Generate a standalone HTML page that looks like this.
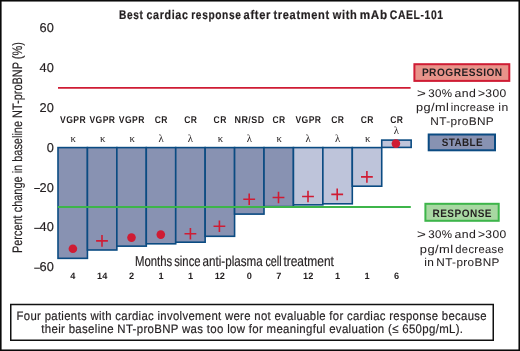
<!DOCTYPE html>
<html><head><meta charset="utf-8"><style>
html,body{margin:0;padding:0;background:#fff;}
body{width:520px;height:351px;overflow:hidden;font-family:"Liberation Sans",sans-serif;}
svg{display:block;text-rendering:geometricPrecision;will-change:transform;}
.r{stroke:#231f20;stroke-width:0.18px;}
.d{stroke:#231f20;stroke-width:0.05px;}
</style></head><body>
<svg width="520" height="351" viewBox="0 0 520 351">
<rect x="58.00" y="147.60" width="29.43" height="110.75" fill="#8892b2" stroke="#0b4b82" stroke-width="1.6"/>
<rect x="87.43" y="147.60" width="29.43" height="102.40" fill="#8892b2" stroke="#0b4b82" stroke-width="1.6"/>
<rect x="116.86" y="147.60" width="29.43" height="98.55" fill="#8892b2" stroke="#0b4b82" stroke-width="1.6"/>
<rect x="146.29" y="147.60" width="29.43" height="96.20" fill="#8892b2" stroke="#0b4b82" stroke-width="1.6"/>
<rect x="175.72" y="147.60" width="29.43" height="94.60" fill="#8892b2" stroke="#0b4b82" stroke-width="1.6"/>
<rect x="205.15" y="147.60" width="29.43" height="88.70" fill="#8892b2" stroke="#0b4b82" stroke-width="1.6"/>
<rect x="234.58" y="147.60" width="29.43" height="66.50" fill="#8892b2" stroke="#0b4b82" stroke-width="1.6"/>
<rect x="264.01" y="147.60" width="29.43" height="59.00" fill="#8892b2" stroke="#0b4b82" stroke-width="1.6"/>
<rect x="293.44" y="147.60" width="29.43" height="57.25" fill="#bec4da" stroke="#0b4b82" stroke-width="1.6"/>
<rect x="322.87" y="147.60" width="29.43" height="56.20" fill="#bec4da" stroke="#0b4b82" stroke-width="1.6"/>
<rect x="352.30" y="147.60" width="29.43" height="38.60" fill="#bec4da" stroke="#0b4b82" stroke-width="1.6"/>
<rect x="381.73" y="140.1" width="29.43" height="7.30" fill="#bec4da" stroke="#0b4b82" stroke-width="1.6"/>
<line x1="58" y1="87.9" x2="410.6" y2="87.9" stroke="#cf1c34" stroke-width="1.9"/>
<line x1="57.8" y1="207.0" x2="410.8" y2="207.0" stroke="#3db54a" stroke-width="1.9"/>
<circle cx="72.9" cy="248.8" r="4.3" fill="#cf1c34"/>
<path d="M96.10 240.90H107.90M102.00 235.10V246.70" stroke="#cf1c34" stroke-width="1.6" fill="none"/>
<circle cx="131.5" cy="237.6" r="4.3" fill="#cf1c34"/>
<circle cx="160.8" cy="234.6" r="4.3" fill="#cf1c34"/>
<path d="M184.50 233.70H196.30M190.40 227.90V239.50" stroke="#cf1c34" stroke-width="1.6" fill="none"/>
<path d="M213.50 226.30H225.30M219.40 220.50V232.10" stroke="#cf1c34" stroke-width="1.6" fill="none"/>
<path d="M243.30 199.20H255.10M249.20 193.40V205.00" stroke="#cf1c34" stroke-width="1.6" fill="none"/>
<path d="M272.60 197.50H284.40M278.50 191.70V203.30" stroke="#cf1c34" stroke-width="1.6" fill="none"/>
<path d="M302.10 196.50H313.90M308.00 190.70V202.30" stroke="#cf1c34" stroke-width="1.6" fill="none"/>
<path d="M331.30 194.40H343.10M337.20 188.60V200.20" stroke="#cf1c34" stroke-width="1.6" fill="none"/>
<path d="M361.00 176.90H372.80M366.90 171.10V182.70" stroke="#cf1c34" stroke-width="1.6" fill="none"/>
<circle cx="395.9" cy="143.6" r="4.3" fill="#cf1c34"/>
<text x="73.02" y="122.6" text-anchor="middle" font-family="Liberation Sans" font-weight="bold" font-size="9.8" letter-spacing="0.5" textLength="26.05" lengthAdjust="spacingAndGlyphs" fill="#231f20">VGPR</text>
<text x="102.44" y="122.6" text-anchor="middle" font-family="Liberation Sans" font-weight="bold" font-size="9.8" letter-spacing="0.5" textLength="26.05" lengthAdjust="spacingAndGlyphs" fill="#231f20">VGPR</text>
<text x="131.88" y="122.6" text-anchor="middle" font-family="Liberation Sans" font-weight="bold" font-size="9.8" letter-spacing="0.5" textLength="26.05" lengthAdjust="spacingAndGlyphs" fill="#231f20">VGPR</text>
<text x="161.31" y="122.6" text-anchor="middle" font-family="Liberation Sans" font-weight="bold" font-size="9.8" letter-spacing="0.5" textLength="13.149999999999999" lengthAdjust="spacingAndGlyphs" fill="#231f20">CR</text>
<text x="190.74" y="122.6" text-anchor="middle" font-family="Liberation Sans" font-weight="bold" font-size="9.8" letter-spacing="0.5" textLength="13.149999999999999" lengthAdjust="spacingAndGlyphs" fill="#231f20">CR</text>
<text x="220.17" y="122.6" text-anchor="middle" font-family="Liberation Sans" font-weight="bold" font-size="9.8" letter-spacing="0.5" textLength="13.149999999999999" lengthAdjust="spacingAndGlyphs" fill="#231f20">CR</text>
<text x="249.59" y="122.6" text-anchor="middle" font-family="Liberation Sans" font-weight="bold" font-size="9.8" letter-spacing="0.5" textLength="30.05" lengthAdjust="spacingAndGlyphs" fill="#231f20">NR/SD</text>
<text x="279.03" y="122.6" text-anchor="middle" font-family="Liberation Sans" font-weight="bold" font-size="9.8" letter-spacing="0.5" textLength="13.149999999999999" lengthAdjust="spacingAndGlyphs" fill="#231f20">CR</text>
<text x="308.45" y="122.6" text-anchor="middle" font-family="Liberation Sans" font-weight="bold" font-size="9.8" letter-spacing="0.5" textLength="26.05" lengthAdjust="spacingAndGlyphs" fill="#231f20">VGPR</text>
<text x="337.88" y="122.6" text-anchor="middle" font-family="Liberation Sans" font-weight="bold" font-size="9.8" letter-spacing="0.5" textLength="13.149999999999999" lengthAdjust="spacingAndGlyphs" fill="#231f20">CR</text>
<text x="367.31" y="122.6" text-anchor="middle" font-family="Liberation Sans" font-weight="bold" font-size="9.8" letter-spacing="0.5" textLength="13.149999999999999" lengthAdjust="spacingAndGlyphs" fill="#231f20">CR</text>
<text x="396.75" y="122.6" text-anchor="middle" font-family="Liberation Sans" font-weight="bold" font-size="9.8" letter-spacing="0.5" textLength="13.149999999999999" lengthAdjust="spacingAndGlyphs" fill="#231f20">CR</text>
<text x="73.31" y="141.6" text-anchor="middle" font-family="Liberation Serif" font-size="10.8" fill="#231f20">κ</text>
<text x="102.74" y="141.6" text-anchor="middle" font-family="Liberation Serif" font-size="10.8" fill="#231f20">κ</text>
<text x="132.17" y="141.6" text-anchor="middle" font-family="Liberation Serif" font-size="10.8" fill="#231f20">κ</text>
<text x="161.00" y="141.6" text-anchor="middle" font-family="Liberation Serif" font-size="10.8" fill="#231f20">λ</text>
<text x="190.44" y="141.6" text-anchor="middle" font-family="Liberation Serif" font-size="10.8" fill="#231f20">λ</text>
<text x="220.47" y="141.6" text-anchor="middle" font-family="Liberation Serif" font-size="10.8" fill="#231f20">κ</text>
<text x="249.29" y="141.6" text-anchor="middle" font-family="Liberation Serif" font-size="10.8" fill="#231f20">λ</text>
<text x="279.33" y="141.6" text-anchor="middle" font-family="Liberation Serif" font-size="10.8" fill="#231f20">κ</text>
<text x="308.15" y="141.6" text-anchor="middle" font-family="Liberation Serif" font-size="10.8" fill="#231f20">λ</text>
<text x="337.58" y="141.6" text-anchor="middle" font-family="Liberation Serif" font-size="10.8" fill="#231f20">λ</text>
<text x="367.62" y="141.6" text-anchor="middle" font-family="Liberation Serif" font-size="10.8" fill="#231f20">κ</text>
<text x="396.44" y="134.2" text-anchor="middle" font-family="Liberation Serif" font-size="10.8" fill="#231f20">λ</text>
<text x="72.72" y="279.4" text-anchor="middle" font-family="Liberation Sans" font-weight="bold" font-size="9.2" fill="#231f20">4</text>
<text x="102.14" y="279.4" text-anchor="middle" font-family="Liberation Sans" font-weight="bold" font-size="9.2" fill="#231f20">14</text>
<text x="131.57" y="279.4" text-anchor="middle" font-family="Liberation Sans" font-weight="bold" font-size="9.2" fill="#231f20">2</text>
<text x="161.00" y="279.4" text-anchor="middle" font-family="Liberation Sans" font-weight="bold" font-size="9.2" fill="#231f20">1</text>
<text x="190.44" y="279.4" text-anchor="middle" font-family="Liberation Sans" font-weight="bold" font-size="9.2" fill="#231f20">1</text>
<text x="219.87" y="279.4" text-anchor="middle" font-family="Liberation Sans" font-weight="bold" font-size="9.2" fill="#231f20">12</text>
<text x="249.29" y="279.4" text-anchor="middle" font-family="Liberation Sans" font-weight="bold" font-size="9.2" fill="#231f20">0</text>
<text x="278.73" y="279.4" text-anchor="middle" font-family="Liberation Sans" font-weight="bold" font-size="9.2" fill="#231f20">7</text>
<text x="308.15" y="279.4" text-anchor="middle" font-family="Liberation Sans" font-weight="bold" font-size="9.2" fill="#231f20">12</text>
<text x="337.58" y="279.4" text-anchor="middle" font-family="Liberation Sans" font-weight="bold" font-size="9.2" fill="#231f20">1</text>
<text x="367.01" y="279.4" text-anchor="middle" font-family="Liberation Sans" font-weight="bold" font-size="9.2" fill="#231f20">1</text>
<text x="396.44" y="279.4" text-anchor="middle" font-family="Liberation Sans" font-weight="bold" font-size="9.2" fill="#231f20">6</text>
<text class="r" x="53.8" y="32.10" text-anchor="end" font-family="Liberation Sans" font-size="12.8" fill="#231f20">60</text>
<text class="r" x="53.8" y="71.95" text-anchor="end" font-family="Liberation Sans" font-size="12.8" fill="#231f20">40</text>
<text class="r" x="53.8" y="111.80" text-anchor="end" font-family="Liberation Sans" font-size="12.8" fill="#231f20">20</text>
<text class="r" x="53.8" y="151.65" text-anchor="end" font-family="Liberation Sans" font-size="12.8" fill="#231f20">0</text>
<text class="r" x="53.8" y="191.50" text-anchor="end" font-family="Liberation Sans" font-size="12.8" fill="#231f20">20</text>
<line x1="34.2" y1="188.50" x2="39.9" y2="188.50" stroke="#231f20" stroke-width="1.05"/>
<text class="r" x="53.8" y="231.35" text-anchor="end" font-family="Liberation Sans" font-size="12.8" fill="#231f20">40</text>
<line x1="34.2" y1="228.35" x2="39.9" y2="228.35" stroke="#231f20" stroke-width="1.05"/>
<text class="r" x="53.8" y="271.20" text-anchor="end" font-family="Liberation Sans" font-size="12.8" fill="#231f20">60</text>
<line x1="34.2" y1="268.20" x2="39.9" y2="268.20" stroke="#231f20" stroke-width="1.05"/>
<text class="r" transform="translate(22.3,147.6) rotate(-90)" x="0" y="0" text-anchor="middle" font-family="Liberation Sans" font-size="13.7" textLength="211" lengthAdjust="spacingAndGlyphs" fill="#231f20">Percent change in baseline NT-proBNP (%)</text>
<text x="118.99" y="19.3" font-family="Liberation Sans" font-weight="bold" font-size="12.5" letter-spacing="0.75" stroke="#231f20" stroke-width="0.2" textLength="24.50" lengthAdjust="spacingAndGlyphs" fill="#231f20">Best</text>
<text x="146.45" y="19.3" font-family="Liberation Sans" font-weight="bold" font-size="12.5" letter-spacing="0.75" stroke="#231f20" stroke-width="0.2" textLength="42.13" lengthAdjust="spacingAndGlyphs" fill="#231f20">cardiac</text>
<text x="191.30" y="19.3" font-family="Liberation Sans" font-weight="bold" font-size="12.5" letter-spacing="0.75" stroke="#231f20" stroke-width="0.2" textLength="50.17" lengthAdjust="spacingAndGlyphs" fill="#231f20">response</text>
<text x="243.60" y="19.3" font-family="Liberation Sans" font-weight="bold" font-size="12.5" letter-spacing="0.75" stroke="#231f20" stroke-width="0.2" textLength="27.51" lengthAdjust="spacingAndGlyphs" fill="#231f20">after</text>
<text x="273.45" y="19.3" font-family="Liberation Sans" font-weight="bold" font-size="12.5" letter-spacing="0.75" stroke="#231f20" stroke-width="0.2" textLength="56.39" lengthAdjust="spacingAndGlyphs" fill="#231f20">treatment</text>
<text x="332.69" y="19.3" font-family="Liberation Sans" font-weight="bold" font-size="12.5" letter-spacing="0.75" stroke="#231f20" stroke-width="0.2" textLength="24.71" lengthAdjust="spacingAndGlyphs" fill="#231f20">with</text>
<text x="359.68" y="19.3" font-family="Liberation Sans" font-weight="bold" font-size="12.5" letter-spacing="0.75" stroke="#231f20" stroke-width="0.2" textLength="28.04" lengthAdjust="spacingAndGlyphs" fill="#231f20">mAb</text>
<text x="389.81" y="19.3" font-family="Liberation Sans" font-weight="bold" font-size="12.5" letter-spacing="0.75" stroke="#231f20" stroke-width="0.2" textLength="53.92" lengthAdjust="spacingAndGlyphs" fill="#231f20">CAEL-101</text>
<text x="134.93" y="266.3" class="r" font-family="Liberation Sans" font-size="14.3" textLength="37.27" lengthAdjust="spacingAndGlyphs" fill="#231f20">Months</text>
<text x="174.20" y="266.3" class="r" font-family="Liberation Sans" font-size="14.3" textLength="26.38" lengthAdjust="spacingAndGlyphs" fill="#231f20">since</text>
<text x="202.52" y="266.3" class="r" font-family="Liberation Sans" font-size="14.3" textLength="60.16" lengthAdjust="spacingAndGlyphs" fill="#231f20">anti-plasma</text>
<text x="265.44" y="266.3" class="r" font-family="Liberation Sans" font-size="14.3" textLength="16.14" lengthAdjust="spacingAndGlyphs" fill="#231f20">cell</text>
<text x="283.39" y="266.3" class="r" font-family="Liberation Sans" font-size="14.3" textLength="50.56" lengthAdjust="spacingAndGlyphs" fill="#231f20">treatment</text>
<rect x="414.4" y="64.2" width="94.9" height="16.7" fill="#e8938a" stroke="#cf1c34" stroke-width="2"/>
<text x="421.89" y="76.4" font-family="Liberation Sans" font-size="10.9" font-weight="bold" letter-spacing="0.5" textLength="80.76" lengthAdjust="spacingAndGlyphs" fill="#231f20">PROGRESSION</text>
<rect x="428.7" y="134.5" width="66.3" height="15.8" fill="#8892b2" stroke="#0b4b82" stroke-width="2"/>
<text x="441.63" y="146.3" font-family="Liberation Sans" font-size="10.9" font-weight="bold" letter-spacing="0.5" textLength="41.55" lengthAdjust="spacingAndGlyphs" fill="#231f20">STABLE</text>
<rect x="425.4" y="203.8" width="73.3" height="17.0" fill="#a8d8a2" stroke="#3db54a" stroke-width="2"/>
<text x="432.43" y="216.5" font-family="Liberation Sans" font-size="10.9" font-weight="bold" letter-spacing="0.5" textLength="59.58" lengthAdjust="spacingAndGlyphs" fill="#231f20">RESPONSE</text>
<text x="417.06" y="96.6" class="d" font-family="Liberation Sans" font-size="11.2" letter-spacing="0.35" textLength="9.30" lengthAdjust="spacingAndGlyphs" fill="#231f20">&gt;</text>
<text x="428.28" y="96.6" class="d" font-family="Liberation Sans" font-size="11.2" letter-spacing="0.35" textLength="24.25" lengthAdjust="spacingAndGlyphs" fill="#231f20">30%</text>
<text x="454.56" y="96.6" class="d" font-family="Liberation Sans" font-size="11.2" letter-spacing="0.35" textLength="21.64" lengthAdjust="spacingAndGlyphs" fill="#231f20">and</text>
<text x="477.90" y="96.6" class="d" font-family="Liberation Sans" font-size="11.2" letter-spacing="0.35" textLength="28.71" lengthAdjust="spacingAndGlyphs" fill="#231f20">&gt;300</text>
<text x="415.94" y="111.2" class="d" font-family="Liberation Sans" font-size="11.2" letter-spacing="0.35" textLength="33.21" lengthAdjust="spacingAndGlyphs" fill="#231f20">pg/ml</text>
<text x="450.65" y="111.2" class="d" font-family="Liberation Sans" font-size="11.2" letter-spacing="0.35" textLength="44.42" lengthAdjust="spacingAndGlyphs" fill="#231f20">increase</text>
<text x="498.33" y="111.2" class="d" font-family="Liberation Sans" font-size="11.2" letter-spacing="0.35" textLength="10.23" lengthAdjust="spacingAndGlyphs" fill="#231f20">in</text>
<text x="430.34" y="124.7" class="d" font-family="Liberation Sans" font-size="11.2" letter-spacing="0.35" textLength="63.77" lengthAdjust="spacingAndGlyphs" fill="#231f20">NT-proBNP</text>
<text x="417.06" y="238.0" class="d" font-family="Liberation Sans" font-size="11.2" letter-spacing="0.35" textLength="9.30" lengthAdjust="spacingAndGlyphs" fill="#231f20">&gt;</text>
<text x="428.28" y="238.0" class="d" font-family="Liberation Sans" font-size="11.2" letter-spacing="0.35" textLength="24.25" lengthAdjust="spacingAndGlyphs" fill="#231f20">30%</text>
<text x="454.56" y="238.0" class="d" font-family="Liberation Sans" font-size="11.2" letter-spacing="0.35" textLength="21.64" lengthAdjust="spacingAndGlyphs" fill="#231f20">and</text>
<text x="477.90" y="238.0" class="d" font-family="Liberation Sans" font-size="11.2" letter-spacing="0.35" textLength="28.71" lengthAdjust="spacingAndGlyphs" fill="#231f20">&gt;300</text>
<text x="419.82" y="252.7" class="d" font-family="Liberation Sans" font-size="11.2" letter-spacing="0.35" textLength="33.62" lengthAdjust="spacingAndGlyphs" fill="#231f20">pg/ml</text>
<text x="455.32" y="252.7" class="d" font-family="Liberation Sans" font-size="11.2" letter-spacing="0.35" textLength="48.67" lengthAdjust="spacingAndGlyphs" fill="#231f20">decrease</text>
<text x="424.29" y="266.2" class="d" font-family="Liberation Sans" font-size="11.2" letter-spacing="0.35" textLength="9.97" lengthAdjust="spacingAndGlyphs" fill="#231f20">in</text>
<text x="436.39" y="266.2" class="d" font-family="Liberation Sans" font-size="11.2" letter-spacing="0.35" textLength="63.29" lengthAdjust="spacingAndGlyphs" fill="#231f20">NT-proBNP</text>
<rect x="10.75" y="304.5" width="482.5" height="35.75" fill="none" stroke="#111" stroke-width="1.5"/>
<text x="16.62" y="319.5" class="r" font-family="Liberation Sans" font-size="12.4" letter-spacing="0.35" textLength="470.36" lengthAdjust="spacingAndGlyphs" fill="#231f20">Four patients with cardiac involvement were not evaluable for cardiac response because</text>
<text x="41.35" y="333.25" class="r" font-family="Liberation Sans" font-size="12.4" letter-spacing="0.35" textLength="421.96" lengthAdjust="spacingAndGlyphs" fill="#231f20">their baseline NT-proBNP was too low for meaningful evaluation (≤ 650pg/mL).</text>
<rect x="0.8" y="0.75" width="518.45" height="349.5" fill="none" stroke="#0a0a0a" stroke-width="1.6"/>
</svg>
</body></html>
